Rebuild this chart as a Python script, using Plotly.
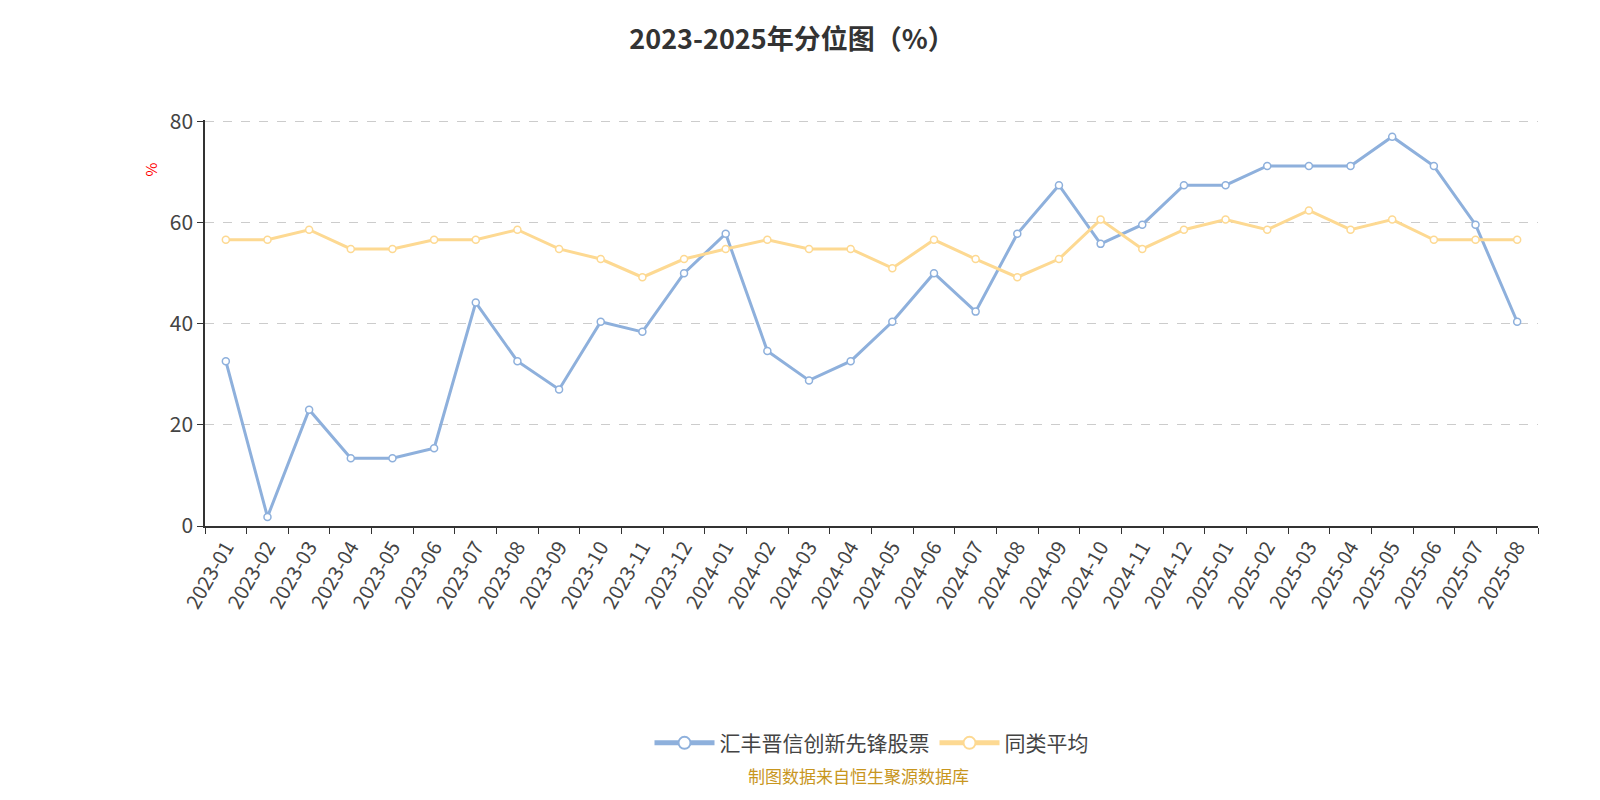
import plotly.graph_objects as go

months = ["2023-01", "2023-02", "2023-03", "2023-04", "2023-05", "2023-06", "2023-07", "2023-08",
          "2023-09", "2023-10", "2023-11", "2023-12", "2024-01", "2024-02", "2024-03", "2024-04",
          "2024-05", "2024-06", "2024-07", "2024-08", "2024-09", "2024-10", "2024-11", "2024-12",
          "2025-01", "2025-02", "2025-03", "2025-04", "2025-05", "2025-06", "2025-07", "2025-08"]
fund = [32.6, 1.8, 23.0, 13.4, 13.4, 15.4, 44.2, 32.6, 27.0, 40.4, 38.4, 50.0,
        57.8, 34.6, 28.8, 32.6, 40.4, 50.0, 42.4, 57.8, 67.4, 55.8, 59.6, 67.4,
        67.4, 71.2, 71.2, 71.2, 77.0, 71.2, 59.6, 40.4]
peer = [56.6, 56.6, 58.6, 54.8, 54.8, 56.6, 56.6, 58.6, 54.8, 52.8, 49.2, 52.8,
        54.8, 56.6, 54.8, 54.8, 51.0, 56.6, 52.8, 49.2, 52.8, 60.6, 54.8, 58.6,
        60.6, 58.6, 62.4, 58.6, 60.6, 56.6, 56.6, 56.6]

fig = go.Figure()
for name, vals, color in [("汇丰晋信创新先锋股票", fund, "#8eb0dc"), ("同类平均", peer, "#fdd992")]:
    fig.add_trace(go.Scatter(
        x=months, y=vals, name=name, mode="lines+markers",
        line=dict(color=color, width=3),
        marker=dict(size=7, color="white", line=dict(color=color, width=1.5)),
    ))

fig.update_layout(
    width=1600, height=800, plot_bgcolor="white", paper_bgcolor="white",
    margin=dict(l=197, r=70, t=112, b=282),
    font=dict(family="Noto Sans CJK SC", color="#333"),
    title=dict(text="<b>2023-2025年分位图（%）</b>", x=0.49, xanchor="center", y=0.972,
               font=dict(size=27, color="#333")),
    legend=dict(orientation="h", x=0.5, xanchor="center", y=-0.535, yanchor="middle",
                font=dict(size=21, color="#444"), itemwidth=60, itemsizing="constant"),
    xaxis=dict(type="category", range=[-0.5, 31.5], tickson="boundaries",
               ticks="outside", ticklen=6, tickcolor="#333", tickangle=-60,
               showline=True, linecolor="#333", linewidth=1.5, showgrid=False,
               tickfont=dict(size=20, color="#444")),
    yaxis=dict(range=[0, 80.3], dtick=20, ticks="outside", ticklen=6, tickcolor="#333",
               showline=True, linecolor="#333", linewidth=1.5,
               showgrid=True, gridcolor="#ccc", griddash="dash", zeroline=False,
               tickfont=dict(size=21, color="#444")),
    annotations=[
        dict(text="%", x=-0.05, y=0.9, xref="paper", yref="paper", showarrow=False,
             textangle=-90, font=dict(size=15, color="red")),
        dict(text="制图数据来自恒生聚源数据库", x=0.49, y=-0.65, xref="paper", yref="paper",
             showarrow=False, font=dict(size=17, color="#c8961e")),
    ],
)
fig.write_html("out.html")
